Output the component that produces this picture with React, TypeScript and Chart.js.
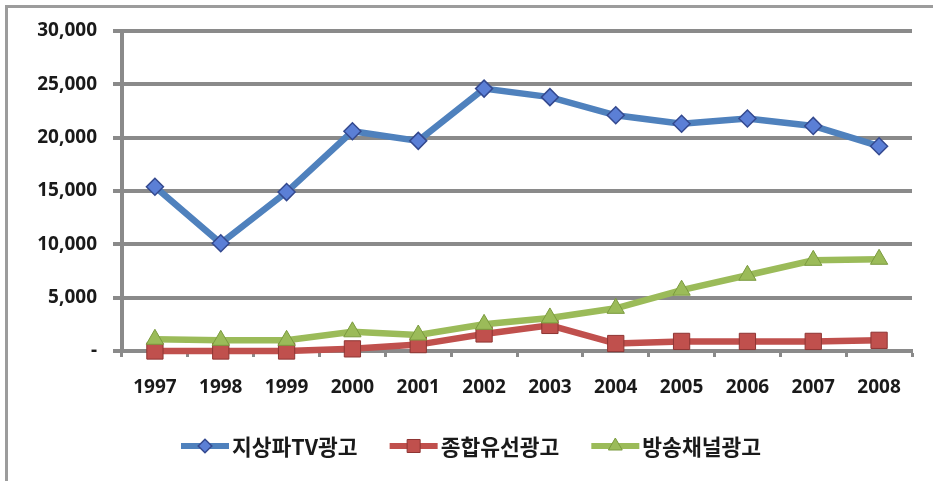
import { useEffect, useRef } from 'react';
import { Chart, registerables } from 'chart.js';

Chart.register(...registerables);

const years = ['1997', '1998', '1999', '2000', '2001', '2002', '2003', '2004', '2005', '2006', '2007', '2008'];
const seriesNames = ['지상파TV광고', '종합유선광고', '방송채널광고'];
const terrestrialTV = [15400, 10100, 14900, 20600, 19700, 24600, 23800, 22100, 21300, 21800, 21100, 19200];
const cableTV = [0, 0, 0, 200, 600, 1600, 2400, 700, 900, 900, 900, 1000];
const channelTV = [1100, 1000, 1000, 1800, 1500, 2500, 3100, 4000, 5700, 7100, 8500, 8600];
const yMin = 0;
const yMax = 30000;
const yStep = 5000;

const BLUE = '#4F81BD';
const BLUE_MARK = '#5B7FD6';
const BLUE_EDGE = '#34498F';
const RED = '#C0504D';
const RED_EDGE = '#8E3533';
const GREEN = '#9BBB59';
const GREEN_EDGE = '#7A9A3E';
const GRID = '#8A8A8A';
const TEXT = '#1A1A1A';

const LEGEND_CX = 471;
const LEGEND_CY = 446;

function drawMarker(ctx: CanvasRenderingContext2D, style: string, x: number, y: number, r: number, fill: string, stroke: string, bw: number) {
  ctx.beginPath();
  if (style === 'rectRot') {
    ctx.moveTo(x - r, y);
    ctx.lineTo(x, y - r);
    ctx.lineTo(x + r, y);
    ctx.lineTo(x, y + r);
  } else if (style === 'rect') {
    const s = r * Math.SQRT1_2;
    ctx.rect(x - s, y - s, 2 * s, 2 * s);
  } else {
    const a = Math.PI / 2;
    for (let i = 0; i < 3; i++) {
      const ang = -a + (i * 2 * Math.PI) / 3;
      const px = x + Math.cos(ang) * r;
      const py = y + Math.sin(ang) * r;
      if (i === 0) ctx.moveTo(px, py);
      else ctx.lineTo(px, py);
    }
  }
  ctx.closePath();
  ctx.fillStyle = fill;
  ctx.fill();
  if (bw > 0) {
    ctx.lineWidth = bw;
    ctx.strokeStyle = stroke;
    ctx.stroke();
  }
}

const legendPlugin = {
  id: 'sampleLegend',
  afterDraw(chart: any) {
    const ctx: CanvasRenderingContext2D = chart.ctx;
    ctx.save();
    ctx.font = 'bold 21.5px "Noto Sans CJK KR", sans-serif';
    ctx.textBaseline = 'middle';
    ctx.textAlign = 'left';
    const sampleW = 48;
    const gap = 3;
    const itemGap = 32;
    const items = chart.data.datasets.map((ds: any) => ({ ds, w: ctx.measureText(ds.label).width }));
    const total = items.reduce((s: number, it: any) => s + sampleW + gap + it.w, 0) + itemGap * (items.length - 1);
    let x = LEGEND_CX - total / 2;
    for (const it of items) {
      const ds = it.ds;
      ctx.beginPath();
      ctx.moveTo(x, LEGEND_CY);
      ctx.lineTo(x + sampleW, LEGEND_CY);
      ctx.lineWidth = 6;
      ctx.strokeStyle = ds.borderColor;
      ctx.stroke();
      drawMarker(ctx, ds.pointStyle, x + sampleW / 2, LEGEND_CY, ds.pointRadius * 0.8, ds.pointBackgroundColor, ds.pointBorderColor, ds.pointBorderWidth);
      ctx.fillStyle = TEXT;
      ctx.fillText(ds.label, x + sampleW + gap, LEGEND_CY + 1);
      x += sampleW + gap + it.w + itemGap;
    }
    ctx.restore();
  },
};

export default function App() {
  const ref = useRef<HTMLCanvasElement | null>(null);

  useEffect(() => {
    if (!ref.current) return;
    const tickFont = { family: '"Noto Sans", sans-serif', size: 19, weight: 'bold' as const };
    const chart = new Chart(ref.current, {
      type: 'line',
      data: {
        labels: years,
        datasets: [
          {
            label: seriesNames[0],
            data: terrestrialTV,
            borderColor: BLUE,
            borderWidth: 6.5,
            tension: 0,
            pointStyle: 'rectRot',
            pointRadius: 8.5,
            pointBackgroundColor: BLUE_MARK,
            pointBorderColor: BLUE_EDGE,
            pointBorderWidth: 1.5,
            order: 0,
            clip: false,
          },
          {
            label: seriesNames[1],
            data: cableTV,
            borderColor: RED,
            borderWidth: 6.5,
            tension: 0,
            pointStyle: 'rect',
            pointRadius: 11.5,
            pointBackgroundColor: RED,
            pointBorderColor: RED_EDGE,
            pointBorderWidth: 1,
            order: 2,
            clip: false,
          },
          {
            label: seriesNames[2],
            data: channelTV,
            borderColor: GREEN,
            borderWidth: 6.5,
            tension: 0,
            pointStyle: 'triangle',
            pointRadius: 10,
            pointBackgroundColor: GREEN,
            pointBorderColor: GREEN_EDGE,
            pointBorderWidth: 1,
            order: 1,
            clip: false,
          },
        ],
      } as any,
      options: {
        responsive: false,
        animation: false,
        layout: { padding: { top: 31, right: 21, left: 30, bottom: 0 } },
        plugins: {
          legend: { display: false },
          tooltip: { enabled: false },
        },
        scales: {
          x: {
            offset: true,
            grid: {
              offset: true,
              drawOnChartArea: false,
              drawTicks: true,
              tickLength: 6,
              tickWidth: 3,
              tickColor: GRID,
            },
            border: { display: true, color: GRID, width: 4 },
            ticks: { font: tickFont, color: TEXT, padding: 19, maxRotation: 0 },
            afterFit: (s: any) => {
              s.height = 130;
            },
          },
          y: {
            min: yMin,
            max: yMax,
            ticks: {
              stepSize: yStep,
              font: tickFont,
              color: TEXT,
              padding: 16,
              callback: (v: any) => (Number(v) === 0 ? '-' : Number(v).toLocaleString('en-US')),
            },
            grid: { color: GRID, lineWidth: 4, tickLength: 9, tickColor: GRID, tickWidth: 4 },
            border: { display: true, color: GRID, width: 4 },
            afterFit: (s: any) => {
              s.width = 92;
            },
          },
        },
      } as any,
      plugins: [legendPlugin],
    });
    return () => chart.destroy();
  }, []);

  return (
    <div style={{ position: 'fixed', left: 0, top: 0, width: 933, height: 481, overflow: 'hidden', background: '#fff' }}>
      <div
        style={{
          position: 'absolute',
          left: 5,
          top: 5,
          width: 1000,
          height: 600,
          border: '3px solid #9C9C9C',
          boxSizing: 'border-box',
        }}
      />
      <canvas ref={ref} width={933} height={481} style={{ position: 'absolute', left: 0, top: 0, display: 'block' }} />
    </div>
  );
}
